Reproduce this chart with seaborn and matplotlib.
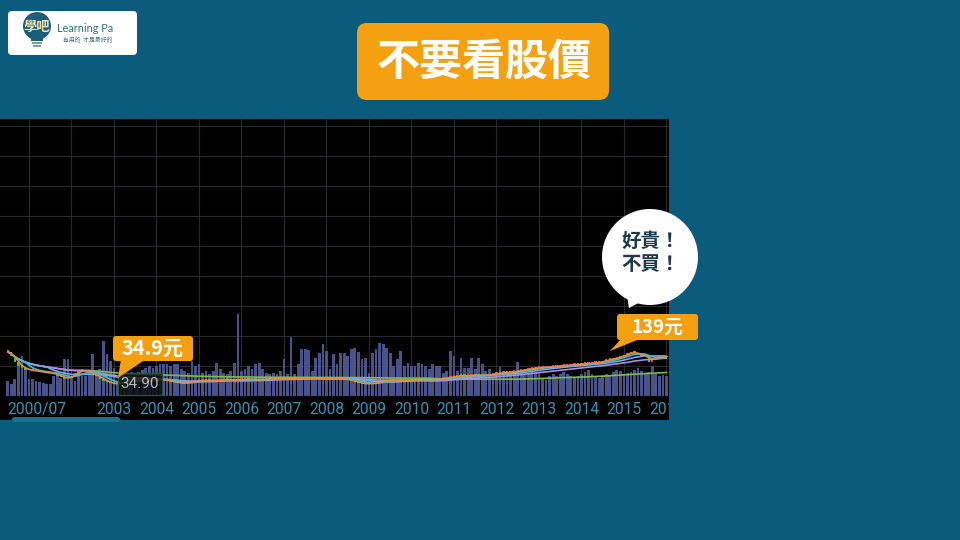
import numpy as np
import pandas as pd
import matplotlib
matplotlib.use("Agg")
import matplotlib.pyplot as plt
import seaborn as sns
from matplotlib.patches import Rectangle, FancyBboxPatch, Circle, Polygon

sns.set_style("dark")
plt.rcParams['font.family'] = ['Noto Sans CJK TC', 'DejaVu Sans']

# ---------------- data ----------------
title = "不要看股價"
start_label = "2000/07"
year_ticks = list(range(2003, 2017))
low_label = "34.90"
low_callout = "34.9元"
high_callout = "139元"
bubble_lines = ["好貴！", "不買！"]

# monthly close (元)
close_2000 = [140, 125, 105, 95, 88, 80]
close_2001 = [80, 78, 76, 74, 73, 71, 70, 67, 62, 57, 52, 55]
close_2002 = [62, 70, 78, 80, 76, 72, 66, 60, 52, 46, 40, 37]
close_2003 = [34.9, 36, 38, 42, 46, 50, 52, 53, 52, 50, 49, 48]
close_2004 = [48, 50, 47, 45, 43, 40, 38, 37, 38, 40, 43, 45]
close_2005 = [46, 47, 46, 45, 46, 47, 48, 49, 48, 47, 48, 49]
close_2006 = [50, 51, 50, 49, 48, 49, 50, 51, 52, 53, 52, 53]
close_2007 = [54, 53, 55, 54, 53, 52, 54, 55, 54, 53, 52, 51]
close_2008 = [52, 51, 53, 54, 52, 50, 48, 46, 42, 38, 36, 35.5]
close_2009 = [36, 37, 40, 44, 46, 47, 48, 47, 48, 47, 46, 48]
close_2010 = [48, 47, 49, 50, 49, 48, 50, 51, 52, 54, 56, 58]
close_2011 = [60, 63, 62, 61, 62, 63, 64, 63, 62, 64, 66, 68]
close_2012 = [70, 71, 72, 73, 74, 76, 78, 80, 82, 84, 86, 88]
close_2013 = [88, 89, 90, 91, 92, 93, 94, 95, 96, 97, 98, 99]
close_2014 = [100, 101, 102, 104, 105, 106, 110, 114, 116, 118, 121, 125]
close_2015 = [130, 134, 139, 136, 130, 127, 126, 108, 118, 121, 122, 123]
close_2016 = [122]

# monthly volume (千張)
vol_2000 = [15, 12, 17, 33, 40, 28]
vol_2001 = [17, 17, 15, 14, 13, 12, 12, 20, 25, 18, 37, 37]
vol_2002 = [20, 15, 25, 20, 20, 25, 42, 25, 27, 55, 42, 35]
vol_2003 = [28, 15, 20, 22, 22, 24, 23, 24, 26, 28, 30, 28]
vol_2004 = [30, 32, 32, 32, 30, 32, 32, 27, 25, 23, 35, 30]
vol_2005 = [32, 23, 25, 22, 25, 33, 27, 23, 22, 25, 33, 82]
vol_2006 = [25, 27, 30, 27, 32, 33, 27, 23, 22, 23, 22, 25]
vol_2007 = [37, 22, 59, 22, 32, 47, 47, 46, 25, 38, 43, 52]
vol_2008 = [45, 27, 42, 32, 43, 43, 40, 47, 48, 44, 37, 38]
vol_2009 = [23, 43, 47, 53, 52, 48, 43, 30, 37, 45, 30, 33]
vol_2010 = [30, 30, 33, 32, 30, 27, 32, 30, 30, 23, 25, 45]
vol_2011 = [40, 25, 38, 28, 28, 38, 27, 38, 32, 25, 27, 22]
vol_2012 = [22, 29, 23, 22, 22, 22, 34, 25, 22, 23, 25, 23]
vol_2013 = [22, 18, 16, 20, 22, 20, 22, 24, 22, 20, 18, 20]
vol_2014 = [22, 24, 26, 22, 20, 18, 20, 22, 20, 24, 26, 25]
vol_2015 = [22, 23, 24, 26, 28, 25, 22, 24, 30, 22, 20, 21]
vol_2016 = [20]

close = (close_2000 + close_2001 + close_2002 + close_2003 + close_2004 + close_2005 +
         close_2006 + close_2007 + close_2008 + close_2009 + close_2010 + close_2011 +
         close_2012 + close_2013 + close_2014 + close_2015 + close_2016)
volume = (vol_2000 + vol_2001 + vol_2002 + vol_2003 + vol_2004 + vol_2005 + vol_2006 +
          vol_2007 + vol_2008 + vol_2009 + vol_2010 + vol_2011 + vol_2012 + vol_2013 +
          vol_2014 + vol_2015 + vol_2016)

months = pd.period_range("2000-07", periods=len(close), freq="M")
t = np.asarray(months.year + (months.month - 1) / 12.0, dtype=float)

df = pd.DataFrame({"t": t, "close": close, "volume": volume})
s = df["close"]
df["open"] = s.shift(1).fillna(s.iloc[0])
ma_specs = [(120, "#7cbd4a"), (24, "#b48be3"), (12, "#7aa7ee"), (6, "#2fc3dc"), (3, "#f28a2e")]
for w, _ in ma_specs:
    df[f"ma{w}"] = s.rolling(w, min_periods=1).mean()

# ---------------- colours ----------------
BG = "#0a5b7c"
ORANGE = "#f4a011"
YEARC = "#3a93b3"

fig = plt.figure(figsize=(9.6, 5.4), dpi=100)
fig.patch.set_facecolor(BG)

W, H = 960.0, 540.0
black = Rectangle((0, (H - 420) / H), 669 / W, 301 / H, transform=fig.transFigure,
                  facecolor="black", edgecolor="none", zorder=0)
fig.add_artist(black)

ax = fig.add_axes([0, (H - 396) / H, 669 / W, 277 / H])
ax.set_facecolor("black")
sns.barplot(data=df, x="t", y="volume", native_scale=True, color="#47538a",
            width=0.78, errorbar=None, linewidth=0, saturation=1, ax=ax)
ax.set_ylim(0, 277)
ax.set_yticks(np.arange(0, 271, 30))
ax.set_yticklabels([])
ax.set_xlim(2000.318, 2016.06)
ax.xaxis.remove_overlapping_locs = False
ax.set_xticks(range(2001, 2017), minor=True)
ax.set_xticks([2000.5] + year_ticks, [start_label] + [str(y) for y in year_ticks])
ax.tick_params(axis="x", which="both", length=0, pad=4.5, labelsize=11.2, labelcolor=YEARC)
ax.tick_params(axis="y", length=0)
for lbl in ax.get_xticklabels():
    lbl.set_family(["Roboto", "DejaVu Sans"])
ticks = ax.xaxis.get_major_ticks()
ticks[0].label1.set_horizontalalignment("left")
for tk in ticks:
    tk.label1.set_clip_path(black)
ax.grid(False)
ax.grid(True, which="minor", axis="x", color="#2a2a2e", linewidth=0.8)
ax.grid(True, which="major", axis="y", color="#2a2a2e", linewidth=0.8)
ax.set_xlabel("")
ax.set_ylabel("")
for sp in ax.spines.values():
    sp.set_visible(False)

ax2 = ax.twinx()
ax2.set_facecolor("none")
ax2.set_ylim(34.9 - 12 * 3.25, 34.9 + 265 * 3.25)
ax2.set_yticks([])
for sp in ax2.spines.values():
    sp.set_visible(False)

# candles
body_lo = np.minimum(df["open"], df["close"])
body_h = np.maximum(np.abs(df["close"] - df["open"]), 5)
ccol = np.where(df["close"] >= df["open"], "#e8413a", "#3fbf4f")
ax2.bar(df["t"], body_h, bottom=body_lo, width=0.055, color=ccol, linewidth=0, zorder=2)

for w, c in ma_specs:
    sns.lineplot(data=df, x="t", y=f"ma{w}", color=c, linewidth=1.2, ax=ax2, zorder=3)
ax2.set_xlim(2000.318, 2016.06)
ax2.set_xlabel("")
ax2.set_ylabel("")

# ---------------- overlay (pixel coordinates) ----------------
ov = fig.add_axes([0, 0, 1, 1], zorder=10)
ov.set_xlim(0, W)
ov.set_ylim(H, 0)
ov.axis("off")
ov.patch.set_alpha(0)

# scroll strip
ov.add_patch(FancyBboxPatch((12, 417), 108, 5, boxstyle="round,pad=0,rounding_size=2.5",
                            facecolor="#1b7090", edgecolor="none"))

# logo
ov.add_patch(FancyBboxPatch((8, 11), 129, 44, boxstyle="round,pad=0,rounding_size=4",
                            facecolor="white", edgecolor="none"))
ov.add_patch(Circle((37, 26), 14, facecolor="#1a5f7a", edgecolor="none"))
ov.add_patch(Rectangle((31, 38), 12, 3, facecolor="#1a5f7a", edgecolor="none"))
ov.add_patch(Rectangle((32, 42), 10, 2, facecolor="#7f98a4", edgecolor="none"))
ov.add_patch(Rectangle((33, 45), 8, 2, facecolor="#7f98a4", edgecolor="none"))
ov.text(37, 27, "學吧", ha="center", va="center", fontsize=9.5, color="#f3e2ae", fontweight="bold")
ov.text(57, 28.5, "Learning Pa", ha="left", va="center", fontsize=7.8, color="#2b6f88",
        family=["Lato", "DejaVu Sans"])
ov.text(63, 40, "有用的  才是最好的", ha="left", va="center", fontsize=4.2, color="#46707e")

# title
ov.add_patch(FancyBboxPatch((357, 23), 252, 77, boxstyle="round,pad=0,rounding_size=10",
                            facecolor=ORANGE, edgecolor="none"))
ov.text(484, 62, title, ha="center", va="center", fontsize=31, fontweight="bold", color="white")

# low label box on chart
ov.add_patch(Rectangle((118, 373), 44, 22, facecolor=(0, 0, 0, 0.72), edgecolor="#1f5a3a", linewidth=1))
ov.text(140, 384, low_label, ha="center", va="center", fontsize=11, color="#b8b8b8",
        family=["Roboto", "DejaVu Sans"])

# low callout
ov.add_patch(Polygon([(121, 359), (146, 359), (118, 378)], closed=True, facecolor=ORANGE, edgecolor="none"))
ov.add_patch(FancyBboxPatch((113, 336), 80, 25, boxstyle="round,pad=0,rounding_size=3",
                            facecolor=ORANGE, edgecolor="none"))
ov.text(153, 348.5, low_callout, ha="center", va="center", fontsize=14.5, fontweight="bold", color="white")

# high callout
ov.add_patch(Polygon([(622, 338), (642, 338), (610, 351)], closed=True, facecolor=ORANGE, edgecolor="none"))
ov.add_patch(FancyBboxPatch((617, 314), 81, 26, boxstyle="round,pad=0,rounding_size=3",
                            facecolor=ORANGE, edgecolor="none"))
ov.text(657, 327, high_callout, ha="center", va="center", fontsize=13.5, fontweight="bold", color="white")

# speech bubble
ov.add_patch(Polygon([(625, 284), (646, 299), (629, 308)], closed=True, facecolor="white", edgecolor="none"))
ov.add_patch(Circle((650, 257), 48, facecolor="white", edgecolor="none"))
ov.text(651, 241, bubble_lines[0], ha="center", va="center", fontsize=14, fontweight="heavy", color="#1c3a4b")
ov.text(651, 265, bubble_lines[1], ha="center", va="center", fontsize=14, fontweight="heavy", color="#1c3a4b")

fig.savefig("out.png", dpi=100, facecolor=BG)
